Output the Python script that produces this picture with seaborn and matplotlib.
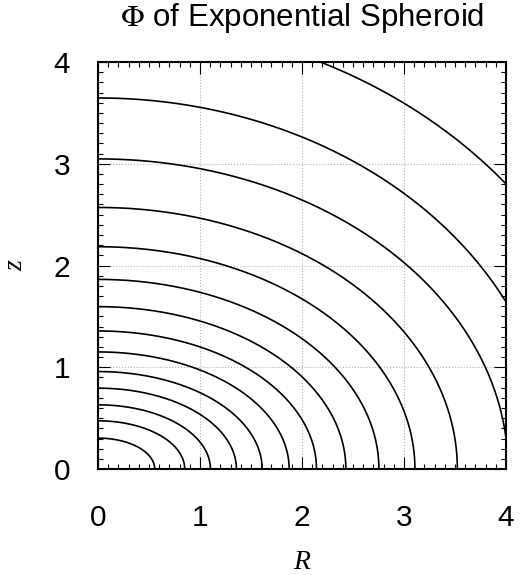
import numpy as np
import pandas as pd
import matplotlib
matplotlib.use("Agg")
import matplotlib.pyplot as plt
from matplotlib.ticker import MultipleLocator
import seaborn as sns

# Equipotential contours as (R, z) semi-axes of each curve
R_axis = [0.556, 0.850, 1.102, 1.357, 1.609, 1.874, 2.142, 2.430, 2.754,
          3.107, 3.523, 4.02, 4.48, 5.18]
z_axis = [0.304, 0.474, 0.631, 0.795, 0.958, 1.151, 1.357, 1.596, 1.864,
          2.185, 2.571, 3.048, 3.647, 4.41]

# Build each contour as a quarter arc in long form for seaborn
theta = np.linspace(0, np.pi / 2, 300)
frames = []
for i, (a, c) in enumerate(zip(R_axis, z_axis)):
    frames.append(pd.DataFrame({"R": a * np.cos(theta),
                                "z": c * np.sin(theta),
                                "level": i}))
df = pd.concat(frames, ignore_index=True)

sns.set_style("ticks")
plt.rcParams["font.family"] = ["Liberation Sans", "DejaVu Sans"]
plt.rcParams["mathtext.fontset"] = "stix"
plt.rcParams["text.color"] = "black"
plt.rcParams["axes.labelcolor"] = "black"
plt.rcParams["xtick.labelcolor"] = "black"
plt.rcParams["ytick.labelcolor"] = "black"

fig = plt.figure(figsize=(5.2, 5.75), dpi=100)
ax = fig.add_axes([0.1885, 0.1843, 0.7846, 0.7078])

sns.lineplot(data=df, x="R", y="z", units="level", estimator=None, sort=False,
             color="black", linewidth=1.2, ax=ax, legend=False)

ax.set_xlim(0, 4)
ax.set_ylim(0, 4)
ax.xaxis.set_major_locator(MultipleLocator(1))
ax.yaxis.set_major_locator(MultipleLocator(1))
ax.xaxis.set_minor_locator(MultipleLocator(0.1))
ax.yaxis.set_minor_locator(MultipleLocator(0.1))
ax.grid(True, which="major", color="#b0b0b0", linestyle=":", linewidth=0.8)

ax.tick_params(which="both", direction="in", top=True, right=True,
               color="black", width=0.8)
ax.tick_params(which="major", length=8.6, labelsize=21.5)
ax.tick_params(axis="x", which="major", pad=25)
ax.tick_params(axis="y", which="major", pad=20)
ax.tick_params(which="minor", length=3.8)

for s in ax.spines.values():
    s.set_linewidth(1.5)
    s.set_color("black")

lab_font = {"family": "Liberation Serif", "style": "italic", "size": 20}
ax.set_xlabel("R", fontdict=lab_font)
ax.set_ylabel("z", fontdict=lab_font)
ax.xaxis.set_label_coords(0.5, -0.198)
ax.yaxis.set_label_coords(-0.172, 0.5)

ax.set_title(r"$\Phi$ of Exponential Spheroid", fontsize=22.5, pad=26)

fig.savefig("out.png", dpi=100)
